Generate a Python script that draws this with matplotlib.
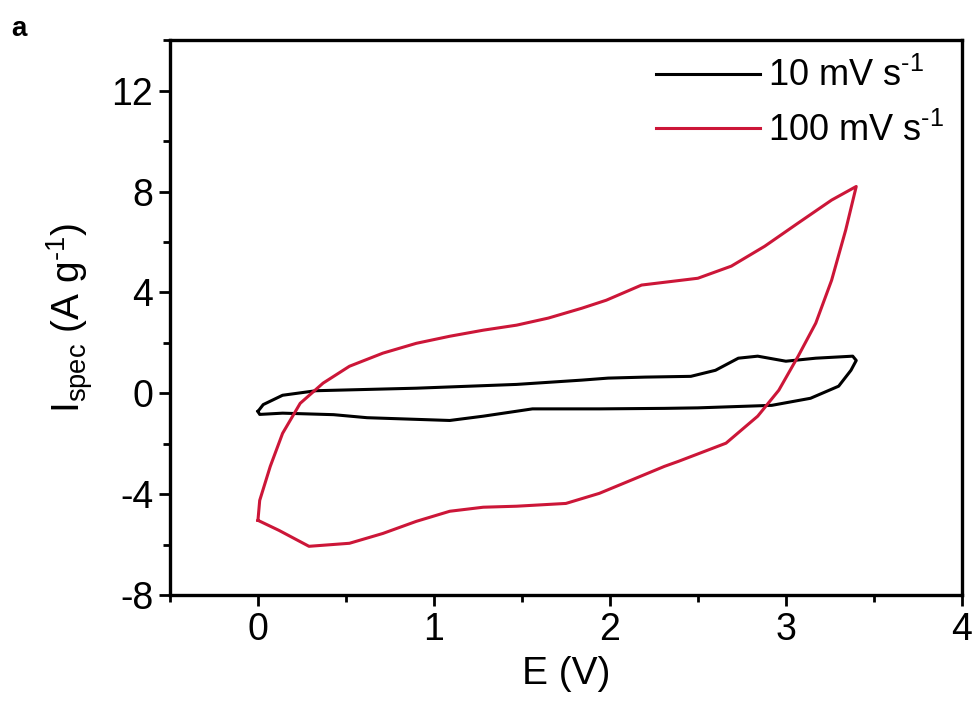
import numpy as np
import matplotlib
matplotlib.use('Agg')
import matplotlib.pyplot as plt
from matplotlib.ticker import MultipleLocator

plt.rcParams['font.family'] = ['Liberation Sans', 'DejaVu Sans']
plt.rcParams['mathtext.fontset'] = 'custom'
plt.rcParams['mathtext.rm'] = 'Liberation Sans'
plt.rcParams['mathtext.it'] = 'Liberation Sans'
plt.rcParams['axes.unicode_minus'] = False

# 10 mV/s loop
e_10 = [0.0, 0.03, 0.14, 0.33, 0.9, 1.47, 1.84, 1.99, 2.2, 2.46, 2.6, 2.73, 2.84, 3.0,
        3.17, 3.38, 3.4, 3.37, 3.3, 3.14, 2.92, 2.5, 2.31, 1.94, 1.56, 1.28, 1.09,
        0.62, 0.43, 0.14, 0.01, 0.0]
i_10 = [-0.72, -0.45, -0.08, 0.1, 0.2, 0.35, 0.52, 0.6, 0.64, 0.67, 0.91, 1.39, 1.47, 1.27,
        1.39, 1.47, 1.3, 0.91, 0.28, -0.2, -0.48, -0.58, -0.6, -0.62, -0.62, -0.91, -1.08,
        -0.97, -0.85, -0.79, -0.84, -0.72]

# 100 mV/s loop
e_100 = [0.0, 0.01, 0.07, 0.14, 0.24, 0.37, 0.52, 0.71, 0.9, 1.09, 1.28, 1.47, 1.65,
         1.84, 1.98, 2.18, 2.5, 2.69, 2.88, 3.07, 3.26, 3.4, 3.34, 3.26, 3.17, 3.07,
         2.96, 2.84, 2.66, 2.39, 2.31, 2.12, 1.94, 1.75, 1.47, 1.28, 1.09, 0.9, 0.71,
         0.52, 0.29, 0.12, 0.0]
i_100 = [-5.04, -4.25, -2.9, -1.59, -0.4, 0.4, 1.07, 1.59, 1.98, 2.26, 2.5, 2.7, 2.98,
         3.37, 3.69, 4.29, 4.56, 5.04, 5.83, 6.75, 7.66, 8.2, 6.47, 4.48, 2.78, 1.47,
         0.12, -0.91, -1.98, -2.7, -2.9, -3.45, -3.97, -4.37, -4.48, -4.52, -4.68, -5.08,
         -5.56, -5.95, -6.07, -5.44, -5.04]

labels = [r'10 mV s$^{\text{-}1}$', r'100 mV s$^{\text{-}1}$']

fig = plt.figure(figsize=(9.74, 7.14), dpi=100)
ax = fig.add_axes([0.1745, 0.1667, 0.813, 0.777])

ax.plot(e_10, i_10, color='black', lw=2.2, label=labels[0])
ax.plot(e_100, i_100, color='#cc1638', lw=2.2, label=labels[1])

ax.set_xlim(-0.5, 4)
ax.set_ylim(-8, 14)
ax.xaxis.set_major_locator(MultipleLocator(1))
ax.xaxis.set_minor_locator(MultipleLocator(0.5))
ax.yaxis.set_minor_locator(MultipleLocator(2))
ax.set_yticks([-8, -4, 0, 4, 8, 12])

for s in ax.spines.values():
    s.set_linewidth(2.4)
ax.tick_params(which='major', direction='out', length=8, width=2, labelsize=27, pad=4)
ax.tick_params(which='minor', direction='out', length=5, width=2)

ax.set_xlabel('E (V)', fontsize=28, labelpad=6)
ax.set_ylabel(r'I$_{\mathrm{spec}}$ (A g$^{\text{-}1}$)', fontsize=28, labelpad=12)

ax.legend(loc='upper right', frameon=False, fontsize=26, handlelength=2.9,
          handletextpad=0.2, labelspacing=0.5, borderaxespad=0.1)

fig.text(0.012, 0.95, 'a', fontsize=20, fontweight='bold')

plt.savefig('out.png', dpi=100)
